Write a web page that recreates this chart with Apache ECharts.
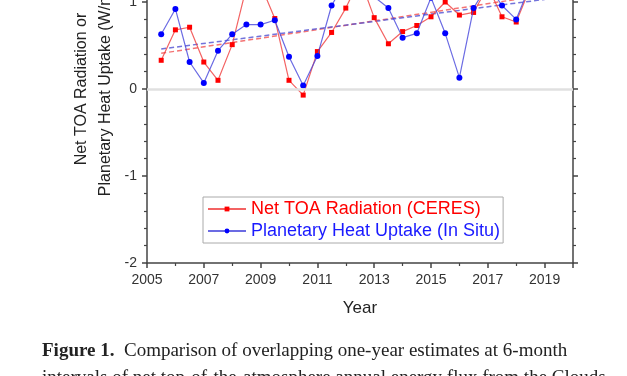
<!DOCTYPE html>
<html>
<head>
<meta charset="utf-8">
<script src="https://cdn.jsdelivr.net/npm/echarts@6/dist/echarts.min.js"></script>
<style>
  html, body { margin: 0; padding: 0; background: #fff; }
  #chart { width: 627px; height: 376px; }
</style>
</head>
<body>
<div id="chart"></div>
<script>
  // one-year estimates every 6 months
  let years = [2005.5, 2006, 2006.5, 2007, 2007.5, 2008, 2008.5, 2009, 2009.5, 2010,
    2010.5, 2011, 2011.5, 2012, 2012.5, 2013, 2013.5, 2014, 2014.5, 2015,
    2015.5, 2016, 2016.5, 2017, 2017.5, 2018, 2018.5, 2019]
  let ceres = [0.33, 0.68, 0.71, 0.31, 0.10, 0.51, 1.17, 1.20, 0.81, 0.10,
    -0.07, 0.43, 0.65, 0.93, 1.27, 0.82, 0.52, 0.66, 0.73, 0.83,
    1.00, 0.85, 0.88, 1.18, 0.83, 0.77, 1.17, 1.25]
  let inSitu = [0.63, 0.92, 0.31, 0.07, 0.44, 0.63, 0.74, 0.74, 0.79, 0.37,
    0.04, 0.38, 0.96, 1.24, 1.30, 1.06, 0.93, 0.59, 0.64, 1.05,
    0.64, 0.13, 0.93, 1.20, 0.96, 0.80, 1.20, 1.25]
  // linear fits, end points
  let ceresTrend = [[2005.5, 0.41], [2019, 1.08]]
  let inSituTrend = [[2005.5, 0.46], [2019, 1.03]]
  let xTickLabels = [2005, 2007, 2009, 2011, 2013, 2015, 2017, 2019]

  let font = 'Liberation Sans, Arial, sans-serif'
  let serif = 'Liberation Serif, Times New Roman, serif'

  function pairs(xs, ys) {
    let out = []
    xs.forEach((x, i) => {
      out.push([x, ys[i]])
    })
    return out
  }

  let axisLine = { show: true, onZero: false, lineStyle: { color: '#444', width: 1.5 } }

  let chart = echarts.init(document.getElementById('chart'))
  chart.setOption({
    animation: false,
    // top of the plot is cut off in the figure
    grid: { left: 147, right: 54, top: -85, bottom: 113, containLabel: false, outerBoundsMode: 'none' },
    legend: {
      orient: 'vertical',
      left: 203,
      top: 197,
      padding: [3, 3, 3, 4],
      itemGap: 4,
      itemWidth: 38,
      itemHeight: 6,
      borderColor: '#aaa',
      borderWidth: 1,
      textStyle: { fontFamily: font, fontSize: 18 },
      data: [
        { name: 'Net TOA Radiation (CERES)', textStyle: { color: '#ff0000' } },
        { name: 'Planetary Heat Uptake (In Situ)', textStyle: { color: '#1a1aff' } }
      ]
    },
    xAxis: {
      type: 'value',
      min: 2005,
      max: 2020,
      interval: 2,
      name: 'Year',
      nameLocation: 'middle',
      nameGap: 37,
      nameTextStyle: { fontFamily: font, fontSize: 17, color: '#222' },
      axisLine: axisLine,
      axisTick: { show: true, length: 5, lineStyle: { color: '#444', width: 1.5 } },
      minorTick: { show: true, splitNumber: 2, length: 3, lineStyle: { color: '#444', width: 1.2 } },
      splitLine: { show: false },
      axisLabel: {
        fontFamily: font,
        fontSize: 14,
        color: '#333',
        margin: 10,
        formatter: function (v) {
          return xTickLabels.indexOf(v) >= 0 ? String(v) : ''
        }
      }
    },
    yAxis: [
      {
        type: 'value',
        min: -2,
        max: 2,
        interval: 1,
        name: 'Net TOA Radiation or\nPlanetary Heat Uptake (W/m²)',
        nameLocation: 'middle',
        nameGap: 29,
        nameMoveOverlap: false,
        nameTextStyle: { fontFamily: font, fontSize: 16, lineHeight: 24, color: '#222' },
        axisLine: axisLine,
        axisTick: { show: true, length: 5, lineStyle: { color: '#444', width: 1.5 } },
        minorTick: { show: true, splitNumber: 5, length: 3, lineStyle: { color: '#444', width: 1.2 } },
        splitLine: { show: false },
        axisLabel: { fontFamily: font, fontSize: 14, color: '#333', margin: 10,
          formatter: function (v) { return String(v) } }
      },
      {
        type: 'value',
        min: -2,
        max: 2,
        interval: 1,
        position: 'right',
        axisLine: axisLine,
        axisTick: { show: true, length: 5, lineStyle: { color: '#444', width: 1.5 } },
        minorTick: { show: true, splitNumber: 5, length: 3, lineStyle: { color: '#444', width: 1.2 } },
        splitLine: { show: false },
        axisLabel: { show: false }
      }
    ],
    series: [
      {
        // zero line
        name: 'zero',
        type: 'line',
        z: 1,
        data: [],
        markLine: {
          silent: true,
          symbol: 'none',
          label: { show: false },
          lineStyle: { color: '#e0e0e0', width: 2.5, type: 'solid' },
          data: [{ yAxis: 0 }]
        }
      },
      {
        name: 'ceres trend',
        type: 'line',
        z: 2,
        symbol: 'none',
        data: ceresTrend,
        lineStyle: { color: 'rgba(240,70,70,0.75)', width: 1.5, type: [5, 3] }
      },
      {
        name: 'in situ trend',
        type: 'line',
        z: 2,
        symbol: 'none',
        data: inSituTrend,
        lineStyle: { color: 'rgba(80,80,210,0.8)', width: 1.5, type: [5, 3] }
      },
      {
        name: 'Net TOA Radiation (CERES)',
        type: 'line',
        z: 3,
        symbol: 'rect',
        symbolSize: 5,
        data: pairs(years, ceres),
        itemStyle: { color: '#ff0000' },
        lineStyle: { color: 'rgba(240,60,60,0.8)', width: 1.2 }
      },
      {
        name: 'Planetary Heat Uptake (In Situ)',
        type: 'line',
        z: 4,
        symbol: 'circle',
        symbolSize: 6,
        data: pairs(years, inSitu),
        itemStyle: { color: '#0000ff' },
        lineStyle: { color: 'rgba(70,70,220,0.8)', width: 1.2 }
      }
    ],
    graphic: [
      {
        type: 'text',
        left: 42,
        top: 342,
        style: {
          text: '{b|Figure 1.}  Comparison of overlapping one-year estimates at 6-month',
          fontFamily: serif,
          fontSize: 19,
          fill: '#222',
          rich: { b: { fontFamily: serif, fontSize: 19, fontWeight: 'bold', fill: '#222' } }
        }
      },
      {
        type: 'text',
        left: 42,
        top: 369,
        style: {
          text: 'intervals of net top-of-the-atmosphere annual energy flux from the Clouds',
          fontFamily: serif,
          fontSize: 19,
          fill: '#222'
        }
      }
    ]
  })
</script>
</body>
</html>
